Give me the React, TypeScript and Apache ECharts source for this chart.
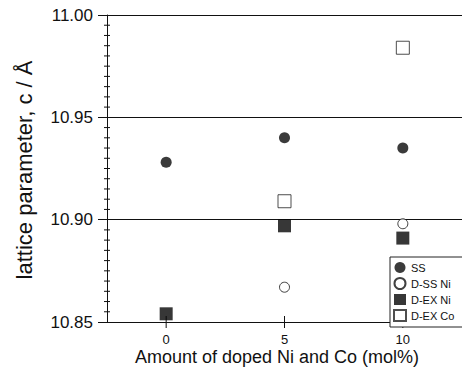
import React, { useEffect, useRef } from "react";
import * as echarts from "echarts";

const seriesNames = ["SS", "D-SS Ni", "D-EX Ni", "D-EX Co"];
const ssData: [number, number][] = [[0, 10.928], [5, 10.940], [10, 10.935]];
const dssNiData: [number, number][] = [[5, 10.867], [10, 10.898]];
const dexNiData: [number, number][] = [[0, 10.854], [5, 10.897], [10, 10.891]];
const dexCoData: [number, number][] = [[5, 10.909], [10, 10.984]];
const xTickValues = [0, 5, 10];
const yMinorTickValues: number[] = [];
for (let i = 1; i < 30; i++) if (i % 10 !== 0) yMinorTickValues.push(10.85 + i * 0.005);
const yTitle = "lattice parameter, c / Å";
const xTitle = "Amount of doped Ni and Co (mol%)";

const FONT = "'Liberation Sans', Arial, sans-serif";
const INK = "#111";
const X_MIN = -2.5;
const X_MAX = 12.5;
const Y_MIN = 10.85;
const Y_MAX = 11.0;

export default function App() {
  const ref = useRef<HTMLDivElement>(null);
  useEffect(() => {
    if (!ref.current) return;
    const chart = echarts.init(ref.current, undefined, { renderer: "svg" });
    chart.setOption({
      animation: false,
      backgroundColor: "#fff",
      textStyle: { fontFamily: FONT },
      grid: { left: 107, top: 15, right: -2, bottom: 50, containLabel: false },
      xAxis: {
        type: "value",
        min: X_MIN,
        max: X_MAX,
        splitLine: { show: false },
        axisLine: { show: true, onZero: false, lineStyle: { color: INK, width: 1 } },
        axisTick: { show: false },
        axisLabel: { show: true, customValues: xTickValues, fontSize: 13, color: INK, margin: 11, fontFamily: FONT },
      },
      yAxis: {
        type: "value",
        min: Y_MIN,
        max: Y_MAX,
        interval: 0.05,
        axisLine: { show: true, onZero: false, lineStyle: { color: INK, width: 1 } },
        axisTick: { show: true, length: 9, lineStyle: { color: INK } },
        splitLine: { show: true, lineStyle: { color: INK, width: 1 } },
        axisLabel: {
          fontSize: 17,
          color: INK,
          margin: 14,
          fontFamily: FONT,
          formatter: (v: number) => v.toFixed(2),
        },
      },
      legend: {
        orient: "vertical",
        left: 390,
        top: 257,
        padding: [5, 30, 5, 3],
        itemWidth: 12,
        itemHeight: 11,
        itemGap: 4,
        backgroundColor: "#fff",
        borderColor: "#222",
        borderWidth: 1,
        borderRadius: 0,
        textStyle: { fontSize: 11, color: INK, fontFamily: FONT },
        data: seriesNames,
      },
      graphic: [
        {
          type: "text",
          x: 24,
          y: 170,
          rotation: Math.PI / 2,
          style: {
            text: yTitle,
            font: `22px ${FONT}`,
            fill: INK,
            align: "center",
            verticalAlign: "middle",
          },
        },
        {
          type: "text",
          x: 277,
          y: 357,
          style: {
            text: xTitle,
            font: `18px ${FONT}`,
            fill: INK,
            align: "center",
            verticalAlign: "middle",
          },
        },
      ],
      series: [
        {
          name: "yMinorTicks",
          type: "custom",
          silent: true,
          clip: false,
          z: 1,
          data: yMinorTickValues.map((v) => [X_MIN, v]),
          renderItem: (_p: any, api: any) => {
            const pt = api.coord([X_MIN, api.value(1)]);
            return {
              type: "line",
              shape: { x1: pt[0] - 3, y1: pt[1], x2: pt[0] + 3, y2: pt[1] },
              style: { stroke: INK, lineWidth: 1 },
            };
          },
        },
        {
          name: "xTicks",
          type: "custom",
          silent: true,
          clip: false,
          z: 1,
          data: xTickValues.map((v) => [v, Y_MIN]),
          renderItem: (_p: any, api: any) => {
            const pt = api.coord([api.value(0), Y_MIN]);
            return {
              type: "line",
              shape: { x1: pt[0], y1: pt[1] - 6, x2: pt[0], y2: pt[1] + 6 },
              style: { stroke: INK, lineWidth: 1 },
            };
          },
        },
        {
          name: seriesNames[0],
          type: "scatter",
          data: ssData,
          symbol: "circle",
          symbolSize: 11,
          z: 3,
          itemStyle: { color: "#0a0a0a" },
        },
        {
          name: seriesNames[1],
          type: "scatter",
          data: dssNiData,
          symbol: "circle",
          symbolSize: 10,
          z: 3,
          itemStyle: { color: "#fff", borderColor: INK, borderWidth: 1 },
        },
        {
          name: seriesNames[2],
          type: "scatter",
          data: dexNiData,
          symbol: "rect",
          symbolSize: 13,
          z: 3,
          itemStyle: { color: "#050505" },
        },
        {
          name: seriesNames[3],
          type: "scatter",
          data: dexCoData,
          symbol: "rect",
          symbolSize: 13,
          z: 3,
          itemStyle: { color: "#fff", borderColor: "#222", borderWidth: 1 },
        },
      ],
    });
    return () => chart.dispose();
  }, []);
  return (
    <div
      ref={ref}
      style={{ position: "fixed", left: 0, top: 0, width: 462, height: 372, background: "#fff" }}
    />
  );
}
